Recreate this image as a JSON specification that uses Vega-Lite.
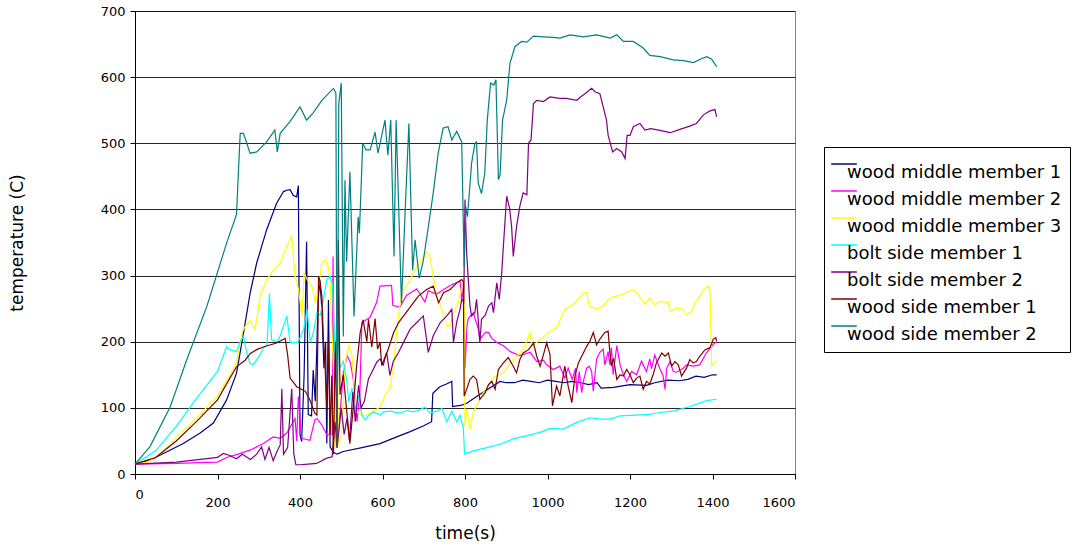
{
"$schema":"https://vega.github.io/schema/vega-lite/v6.json",
"width":660,"height":463,
"autosize":{"type":"none"},
"padding":{"left":135,"top":11,"right":287,"bottom":71},
"background":"white",
"config":{"font":"DejaVu Sans","view":{"stroke":"#808080","strokeWidth":1}},
"datasets":{
"wmm1":[{"time":0,"temp":15},{"time":40,"temp":22},{"time":69,"temp":31},{"time":117,"temp":46},{"time":158,"temp":62},{"time":190,"temp":77},{"time":222,"temp":112},{"time":246,"temp":152},{"time":263,"temp":213},{"time":279,"temp":273},{"time":295,"temp":319},{"time":319,"temp":369},{"time":343,"temp":409},{"time":360,"temp":427},{"time":368,"temp":429},{"time":376,"temp":430},{"time":384,"temp":421},{"time":392,"temp":419},{"time":396,"temp":436},{"time":400,"temp":60},{"time":404,"temp":49},{"time":410,"temp":150},{"time":416,"temp":351},{"time":420,"temp":90},{"time":428,"temp":88},{"time":432,"temp":157},{"time":437,"temp":110},{"time":444,"temp":263},{"time":448,"temp":293},{"time":453,"temp":250},{"time":458,"temp":160},{"time":462,"temp":200},{"time":465,"temp":46},{"time":469,"temp":263},{"time":473,"temp":41},{"time":481,"temp":33},{"time":490,"temp":30},{"time":505,"temp":34},{"time":550,"temp":40},{"time":594,"temp":46},{"time":630,"temp":55},{"time":667,"temp":64},{"time":700,"temp":73},{"time":719,"temp":79},{"time":722,"temp":122},{"time":739,"temp":132},{"time":755,"temp":136},{"time":768,"temp":140},{"time":770,"temp":102},{"time":792,"temp":104},{"time":804,"temp":107},{"time":830,"temp":118},{"time":860,"temp":130},{"time":885,"temp":140},{"time":900,"temp":138},{"time":920,"temp":138},{"time":940,"temp":142},{"time":960,"temp":140},{"time":980,"temp":138},{"time":1000,"temp":142},{"time":1020,"temp":140},{"time":1040,"temp":138},{"time":1060,"temp":140},{"time":1080,"temp":138},{"time":1100,"temp":135},{"time":1120,"temp":138},{"time":1130,"temp":130},{"time":1160,"temp":131},{"time":1200,"temp":135},{"time":1240,"temp":134},{"time":1260,"temp":138},{"time":1290,"temp":142},{"time":1320,"temp":141},{"time":1340,"temp":143},{"time":1360,"temp":148},{"time":1380,"temp":146},{"time":1400,"temp":150},{"time":1410,"temp":150}],
"wmm2":[{"time":0,"temp":15},{"time":100,"temp":16},{"time":200,"temp":18},{"time":222,"temp":25},{"time":250,"temp":30},{"time":279,"temp":36},{"time":311,"temp":46},{"time":335,"temp":56},{"time":352,"temp":54},{"time":368,"temp":62},{"time":388,"temp":84},{"time":392,"temp":50},{"time":396,"temp":117},{"time":404,"temp":54},{"time":424,"temp":51},{"time":436,"temp":82},{"time":441,"temp":84},{"time":453,"temp":74},{"time":465,"temp":59},{"time":478,"temp":60},{"time":480,"temp":329},{"time":485,"temp":54},{"time":490,"temp":40},{"time":505,"temp":152},{"time":514,"temp":179},{"time":522,"temp":169},{"time":530,"temp":140},{"time":538,"temp":80},{"time":545,"temp":120},{"time":550,"temp":229},{"time":570,"temp":237},{"time":586,"temp":260},{"time":594,"temp":284},{"time":622,"temp":285},{"time":625,"temp":255},{"time":642,"temp":252},{"time":658,"temp":270},{"time":683,"temp":280},{"time":703,"temp":260},{"time":711,"temp":277},{"time":731,"temp":272},{"time":764,"temp":285},{"time":788,"temp":292},{"time":792,"temp":262},{"time":797,"temp":285},{"time":800,"temp":160},{"time":805,"temp":225},{"time":808,"temp":235},{"time":820,"temp":244},{"time":832,"temp":220},{"time":836,"temp":204},{"time":850,"temp":214},{"time":857,"temp":214},{"time":865,"temp":205},{"time":877,"temp":199},{"time":893,"temp":194},{"time":910,"temp":185},{"time":933,"temp":179},{"time":958,"temp":184},{"time":974,"temp":170},{"time":990,"temp":172},{"time":998,"temp":165},{"time":1014,"temp":158},{"time":1030,"temp":163},{"time":1042,"temp":145},{"time":1050,"temp":160},{"time":1060,"temp":143},{"time":1068,"temp":160},{"time":1071,"temp":123},{"time":1077,"temp":155},{"time":1083,"temp":123},{"time":1087,"temp":140},{"time":1095,"temp":160},{"time":1101,"temp":163},{"time":1107,"temp":155},{"time":1111,"temp":125},{"time":1119,"temp":174},{"time":1127,"temp":184},{"time":1135,"temp":189},{"time":1139,"temp":165},{"time":1147,"temp":185},{"time":1151,"temp":165},{"time":1155,"temp":191},{"time":1159,"temp":150},{"time":1168,"temp":194},{"time":1176,"temp":165},{"time":1184,"temp":150},{"time":1192,"temp":140},{"time":1204,"temp":155},{"time":1216,"temp":150},{"time":1228,"temp":171},{"time":1232,"temp":165},{"time":1240,"temp":155},{"time":1248,"temp":174},{"time":1252,"temp":159},{"time":1260,"temp":180},{"time":1272,"temp":160},{"time":1280,"temp":149},{"time":1285,"temp":128},{"time":1289,"temp":160},{"time":1297,"temp":170},{"time":1305,"temp":155},{"time":1313,"temp":154},{"time":1329,"temp":160},{"time":1337,"temp":165},{"time":1353,"temp":163},{"time":1369,"temp":165},{"time":1386,"temp":184},{"time":1394,"temp":190},{"time":1402,"temp":196},{"time":1410,"temp":200}],
"wmm3":[{"time":0,"temp":15},{"time":30,"temp":18},{"time":60,"temp":30},{"time":100,"temp":55},{"time":150,"temp":85},{"time":200,"temp":118},{"time":230,"temp":150},{"time":246,"temp":168},{"time":260,"temp":215},{"time":267,"temp":223},{"time":279,"temp":232},{"time":291,"temp":218},{"time":303,"temp":268},{"time":319,"temp":293},{"time":335,"temp":308},{"time":352,"temp":319},{"time":364,"temp":339},{"time":380,"temp":359},{"time":388,"temp":299},{"time":396,"temp":280},{"time":405,"temp":239},{"time":410,"temp":304},{"time":417,"temp":294},{"time":429,"temp":284},{"time":437,"temp":259},{"time":445,"temp":284},{"time":453,"temp":319},{"time":461,"temp":324},{"time":469,"temp":314},{"time":473,"temp":289},{"time":481,"temp":159},{"time":485,"temp":39},{"time":489,"temp":250},{"time":493,"temp":44},{"time":500,"temp":60},{"time":510,"temp":169},{"time":518,"temp":194},{"time":526,"temp":179},{"time":534,"temp":109},{"time":538,"temp":94},{"time":550,"temp":89},{"time":562,"temp":89},{"time":580,"temp":96},{"time":594,"temp":101},{"time":606,"temp":119},{"time":618,"temp":129},{"time":627,"temp":164},{"time":635,"temp":219},{"time":643,"temp":259},{"time":651,"temp":279},{"time":663,"temp":289},{"time":679,"temp":309},{"time":695,"temp":324},{"time":707,"temp":336},{"time":715,"temp":329},{"time":723,"temp":299},{"time":731,"temp":269},{"time":744,"temp":249},{"time":756,"temp":224},{"time":764,"temp":224},{"time":772,"temp":244},{"time":784,"temp":259},{"time":792,"temp":284},{"time":798,"temp":290},{"time":800,"temp":73},{"time":804,"temp":98},{"time":812,"temp":68},{"time":820,"temp":93},{"time":832,"temp":108},{"time":849,"temp":128},{"time":869,"temp":146},{"time":893,"temp":153},{"time":917,"temp":173},{"time":941,"temp":188},{"time":958,"temp":214},{"time":962,"temp":193},{"time":982,"temp":203},{"time":1006,"temp":216},{"time":1022,"temp":221},{"time":1042,"temp":249},{"time":1063,"temp":256},{"time":1087,"temp":274},{"time":1095,"temp":275},{"time":1101,"temp":254},{"time":1119,"temp":249},{"time":1135,"temp":254},{"time":1151,"temp":266},{"time":1168,"temp":269},{"time":1192,"temp":274},{"time":1208,"temp":279},{"time":1220,"temp":271},{"time":1236,"temp":257},{"time":1248,"temp":266},{"time":1260,"temp":256},{"time":1272,"temp":261},{"time":1293,"temp":259},{"time":1297,"temp":246},{"time":1313,"temp":251},{"time":1329,"temp":249},{"time":1337,"temp":241},{"time":1349,"temp":244},{"time":1357,"temp":259},{"time":1365,"temp":264},{"time":1378,"temp":279},{"time":1390,"temp":284},{"time":1394,"temp":274},{"time":1398,"temp":163},{"time":1402,"temp":168},{"time":1410,"temp":171}],
"bsm1":[{"time":0,"temp":15},{"time":50,"temp":35},{"time":100,"temp":72},{"time":150,"temp":115},{"time":200,"temp":155},{"time":222,"temp":192},{"time":230,"temp":188},{"time":246,"temp":185},{"time":255,"temp":200},{"time":263,"temp":208},{"time":271,"temp":183},{"time":279,"temp":167},{"time":287,"temp":165},{"time":303,"temp":180},{"time":311,"temp":190},{"time":320,"temp":195},{"time":326,"temp":273},{"time":331,"temp":203},{"time":345,"temp":200},{"time":352,"temp":209},{"time":360,"temp":224},{"time":368,"temp":239},{"time":376,"temp":199},{"time":395,"temp":199},{"time":409,"temp":219},{"time":417,"temp":249},{"time":425,"temp":199},{"time":433,"temp":215},{"time":441,"temp":244},{"time":449,"temp":240},{"time":457,"temp":264},{"time":465,"temp":294},{"time":473,"temp":299},{"time":479,"temp":285},{"time":485,"temp":174},{"time":490,"temp":250},{"time":496,"temp":160},{"time":505,"temp":170},{"time":514,"temp":139},{"time":518,"temp":109},{"time":526,"temp":130},{"time":534,"temp":89},{"time":542,"temp":119},{"time":550,"temp":89},{"time":558,"temp":82},{"time":566,"temp":88},{"time":578,"temp":94},{"time":594,"temp":89},{"time":602,"temp":94},{"time":620,"temp":95},{"time":640,"temp":92},{"time":660,"temp":96},{"time":675,"temp":94},{"time":690,"temp":97},{"time":703,"temp":101},{"time":715,"temp":92},{"time":731,"temp":95},{"time":744,"temp":99},{"time":756,"temp":79},{"time":768,"temp":95},{"time":780,"temp":79},{"time":788,"temp":89},{"time":796,"temp":69},{"time":799,"temp":30},{"time":820,"temp":35},{"time":853,"temp":40},{"time":885,"temp":45},{"time":917,"temp":53},{"time":950,"temp":58},{"time":982,"temp":63},{"time":1006,"temp":69},{"time":1038,"temp":68},{"time":1071,"temp":78},{"time":1103,"temp":85},{"time":1130,"temp":83},{"time":1151,"temp":83},{"time":1176,"temp":88},{"time":1216,"temp":89},{"time":1248,"temp":90},{"time":1272,"temp":93},{"time":1305,"temp":95},{"time":1345,"temp":102},{"time":1386,"temp":111},{"time":1410,"temp":113}],
"bsm2":[{"time":0,"temp":15},{"time":100,"temp":18},{"time":200,"temp":25},{"time":214,"temp":31},{"time":230,"temp":28},{"time":246,"temp":23},{"time":260,"temp":30},{"time":280,"temp":22},{"time":295,"temp":30},{"time":307,"temp":41},{"time":315,"temp":22},{"time":325,"temp":40},{"time":335,"temp":20},{"time":345,"temp":35},{"time":352,"temp":44},{"time":356,"temp":129},{"time":360,"temp":30},{"time":370,"temp":40},{"time":380,"temp":129},{"time":385,"temp":30},{"time":390,"temp":14},{"time":400,"temp":14},{"time":420,"temp":15},{"time":440,"temp":16},{"time":465,"temp":24},{"time":478,"temp":26},{"time":485,"temp":79},{"time":490,"temp":40},{"time":500,"temp":100},{"time":507,"temp":60},{"time":514,"temp":84},{"time":520,"temp":50},{"time":528,"temp":124},{"time":534,"temp":79},{"time":542,"temp":134},{"time":548,"temp":100},{"time":556,"temp":110},{"time":566,"temp":144},{"time":575,"temp":155},{"time":586,"temp":169},{"time":594,"temp":174},{"time":602,"temp":165},{"time":610,"temp":184},{"time":618,"temp":149},{"time":626,"temp":170},{"time":639,"temp":184},{"time":651,"temp":199},{"time":667,"temp":219},{"time":683,"temp":229},{"time":699,"temp":239},{"time":711,"temp":184},{"time":723,"temp":209},{"time":740,"temp":229},{"time":756,"temp":239},{"time":768,"temp":249},{"time":772,"temp":199},{"time":780,"temp":230},{"time":788,"temp":249},{"time":792,"temp":264},{"time":797,"temp":260},{"time":800,"temp":415},{"time":804,"temp":334},{"time":812,"temp":254},{"time":816,"temp":239},{"time":824,"temp":244},{"time":828,"temp":264},{"time":832,"temp":234},{"time":836,"temp":198},{"time":840,"temp":234},{"time":849,"temp":240},{"time":857,"temp":254},{"time":865,"temp":259},{"time":869,"temp":244},{"time":877,"temp":289},{"time":883,"temp":264},{"time":889,"temp":304},{"time":893,"temp":344},{"time":901,"temp":420},{"time":908,"temp":402},{"time":913,"temp":374},{"time":917,"temp":329},{"time":925,"temp":374},{"time":933,"temp":405},{"time":941,"temp":425},{"time":950,"temp":422},{"time":954,"temp":500},{"time":960,"temp":505},{"time":966,"temp":560},{"time":974,"temp":565},{"time":990,"temp":563},{"time":1006,"temp":570},{"time":1030,"temp":568},{"time":1046,"temp":568},{"time":1071,"temp":565},{"time":1080,"temp":570},{"time":1091,"temp":575},{"time":1107,"temp":583},{"time":1115,"temp":578},{"time":1127,"temp":575},{"time":1135,"temp":555},{"time":1143,"temp":535},{"time":1147,"temp":512},{"time":1158,"temp":487},{"time":1168,"temp":492},{"time":1180,"temp":487},{"time":1188,"temp":477},{"time":1193,"temp":512},{"time":1200,"temp":512},{"time":1208,"temp":525},{"time":1224,"temp":530},{"time":1236,"temp":520},{"time":1250,"temp":522},{"time":1270,"temp":520},{"time":1297,"temp":516},{"time":1321,"temp":521},{"time":1345,"temp":526},{"time":1361,"temp":530},{"time":1378,"temp":543},{"time":1394,"temp":549},{"time":1406,"temp":551},{"time":1410,"temp":540}],
"wsm1":[{"time":0,"temp":15},{"time":50,"temp":25},{"time":100,"temp":50},{"time":150,"temp":80},{"time":200,"temp":112},{"time":230,"temp":145},{"time":246,"temp":162},{"time":267,"temp":172},{"time":279,"temp":182},{"time":295,"temp":188},{"time":311,"temp":192},{"time":327,"temp":195},{"time":343,"temp":198},{"time":352,"temp":201},{"time":364,"temp":205},{"time":370,"temp":180},{"time":376,"temp":145},{"time":392,"temp":132},{"time":413,"temp":125},{"time":424,"temp":112},{"time":436,"temp":92},{"time":441,"temp":89},{"time":445,"temp":299},{"time":448,"temp":293},{"time":453,"temp":269},{"time":457,"temp":200},{"time":461,"temp":159},{"time":465,"temp":100},{"time":469,"temp":200},{"time":473,"temp":60},{"time":477,"temp":149},{"time":481,"temp":30},{"time":486,"temp":200},{"time":490,"temp":40},{"time":493,"temp":354},{"time":497,"temp":120},{"time":505,"temp":150},{"time":513,"temp":97},{"time":521,"temp":46},{"time":529,"temp":100},{"time":537,"temp":162},{"time":546,"temp":214},{"time":553,"temp":233},{"time":562,"temp":200},{"time":566,"temp":234},{"time":574,"temp":192},{"time":582,"temp":235},{"time":588,"temp":189},{"time":594,"temp":199},{"time":598,"temp":164},{"time":614,"temp":189},{"time":627,"temp":214},{"time":639,"temp":229},{"time":651,"temp":239},{"time":663,"temp":249},{"time":675,"temp":259},{"time":687,"temp":269},{"time":707,"temp":279},{"time":723,"temp":284},{"time":736,"temp":259},{"time":748,"temp":274},{"time":764,"temp":279},{"time":780,"temp":289},{"time":792,"temp":294},{"time":796,"temp":291},{"time":798,"temp":118},{"time":804,"temp":128},{"time":812,"temp":143},{"time":820,"temp":148},{"time":828,"temp":143},{"time":836,"temp":113},{"time":849,"temp":123},{"time":857,"temp":135},{"time":865,"temp":140},{"time":873,"temp":128},{"time":881,"temp":158},{"time":893,"temp":168},{"time":905,"temp":176},{"time":917,"temp":163},{"time":925,"temp":153},{"time":933,"temp":173},{"time":941,"temp":183},{"time":954,"temp":188},{"time":966,"temp":198},{"time":974,"temp":178},{"time":982,"temp":163},{"time":990,"temp":180},{"time":998,"temp":198},{"time":1006,"temp":181},{"time":1012,"temp":103},{"time":1022,"temp":133},{"time":1030,"temp":118},{"time":1042,"temp":163},{"time":1050,"temp":133},{"time":1059,"temp":108},{"time":1067,"temp":150},{"time":1075,"temp":168},{"time":1083,"temp":178},{"time":1095,"temp":193},{"time":1103,"temp":201},{"time":1111,"temp":214},{"time":1119,"temp":195},{"time":1127,"temp":204},{"time":1139,"temp":214},{"time":1147,"temp":216},{"time":1151,"temp":185},{"time":1155,"temp":163},{"time":1160,"temp":175},{"time":1168,"temp":143},{"time":1176,"temp":150},{"time":1184,"temp":148},{"time":1192,"temp":158},{"time":1200,"temp":150},{"time":1208,"temp":138},{"time":1216,"temp":145},{"time":1224,"temp":148},{"time":1232,"temp":128},{"time":1240,"temp":140},{"time":1248,"temp":136},{"time":1256,"temp":150},{"time":1264,"temp":168},{"time":1277,"temp":183},{"time":1285,"temp":178},{"time":1293,"temp":183},{"time":1301,"temp":163},{"time":1309,"temp":170},{"time":1317,"temp":165},{"time":1325,"temp":148},{"time":1337,"temp":160},{"time":1345,"temp":173},{"time":1353,"temp":168},{"time":1361,"temp":170},{"time":1369,"temp":178},{"time":1382,"temp":188},{"time":1394,"temp":191},{"time":1402,"temp":204},{"time":1408,"temp":206},{"time":1410,"temp":201}],
"wsm2":[{"time":0,"temp":15},{"time":36,"temp":41},{"time":85,"temp":101},{"time":125,"temp":172},{"time":174,"temp":253},{"time":222,"temp":349},{"time":246,"temp":392},{"time":255,"temp":515},{"time":263,"temp":515},{"time":279,"temp":485},{"time":295,"temp":487},{"time":319,"temp":502},{"time":339,"temp":520},{"time":345,"temp":487},{"time":352,"temp":515},{"time":376,"temp":533},{"time":400,"temp":555},{"time":416,"temp":535},{"time":432,"temp":546},{"time":453,"temp":565},{"time":481,"temp":583},{"time":487,"temp":576},{"time":490,"temp":40},{"time":494,"temp":560},{"time":500,"temp":591},{"time":505,"temp":208},{"time":509,"temp":444},{"time":513,"temp":321},{"time":521,"temp":457},{"time":531,"temp":238},{"time":541,"temp":389},{"time":544,"temp":364},{"time":552,"temp":500},{"time":560,"temp":490},{"time":570,"temp":490},{"time":582,"temp":517},{"time":589,"temp":485},{"time":606,"temp":535},{"time":613,"temp":482},{"time":620,"temp":535},{"time":628,"temp":329},{"time":633,"temp":535},{"time":646,"temp":258},{"time":655,"temp":399},{"time":664,"temp":530},{"time":673,"temp":308},{"time":679,"temp":354},{"time":689,"temp":296},{"time":699,"temp":323},{"time":710,"temp":369},{"time":723,"temp":425},{"time":735,"temp":485},{"time":747,"temp":523},{"time":759,"temp":525},{"time":768,"temp":505},{"time":780,"temp":518},{"time":792,"temp":502},{"time":798,"temp":313},{"time":802,"temp":404},{"time":806,"temp":389},{"time":816,"temp":470},{"time":824,"temp":500},{"time":828,"temp":502},{"time":832,"temp":440},{"time":840,"temp":424},{"time":848,"temp":455},{"time":854,"temp":535},{"time":862,"temp":591},{"time":870,"temp":588},{"time":875,"temp":596},{"time":881,"temp":445},{"time":885,"temp":452},{"time":891,"temp":535},{"time":901,"temp":565},{"time":909,"temp":621},{"time":921,"temp":646},{"time":937,"temp":654},{"time":950,"temp":653},{"time":966,"temp":662},{"time":990,"temp":661},{"time":1014,"temp":660},{"time":1030,"temp":659},{"time":1055,"temp":664},{"time":1087,"temp":661},{"time":1119,"temp":664},{"time":1152,"temp":659},{"time":1168,"temp":664},{"time":1184,"temp":654},{"time":1208,"temp":654},{"time":1232,"temp":644},{"time":1248,"temp":633},{"time":1273,"temp":631},{"time":1305,"temp":626},{"time":1329,"temp":625},{"time":1354,"temp":622},{"time":1370,"temp":627},{"time":1386,"temp":631},{"time":1398,"temp":627},{"time":1410,"temp":616}]
},
"encoding":{
"x":{"field":"time","type":"quantitative","scale":{"domain":[0,1600],"nice":false},"axis":{"title":"time(s)","values":[0,200,400,600,800,1000,1200,1400,1600],"format":"d","grid":false,"domainColor":"#000","tickColor":"#000","tickSize":5,"labelColor":"#000","labelFontSize":13,"labelPadding":{"condition":{"test":"datum.value == 0","value":9},"value":17},"titleFontSize":17,"titleFontWeight":"normal","titleColor":"#000","titlePadding":16}},
"y":{"field":"temp","type":"quantitative","scale":{"domain":[0,700],"nice":false},"axis":{"title":"temperature (C)","values":[0,100,200,300,400,500,600,700],"grid":true,"gridColor":"#000","gridOpacity":0.85,"gridWidth":1,"domainColor":"#000","tickColor":"#000","tickSize":5,"labelColor":"#000","labelFontSize":13,"labelPadding":5,"titleFontSize":17,"titleFontWeight":"normal","titleColor":"#000","titlePadding":74}}
},
"layer":[
{"data":{"name":"wmm1"},"mark":{"type":"line","strokeWidth":1.2},"encoding":{"color":{"datum":"wood middle member 1","type":"nominal","scale":{"domain":["wood middle member 1","wood middle member 2","wood middle member 3","bolt side member 1","bolt side member 2","wood side member 1","wood side member 2"],"range":["#000080","#FF00FF","#FFFF00","#00FFFF","#800080","#800000","#008080"]},"legend":{"title":null,"orient":"none","legendX":689,"legendY":136,"strokeColor":"#000","fillColor":"#fff","padding":8,"symbolType":"M-1.6,0H1.6","symbolSize":256,"symbolOffset":3,"symbolStrokeWidth":1.5,"labelFontSize":18,"labelColor":"#000","labelOffset":-6,"labelBaseline":"top","labelLimit":400,"rowPadding":0}}}},
{"data":{"name":"wmm2"},"mark":{"type":"line","strokeWidth":1.2},"encoding":{"color":{"datum":"wood middle member 2","type":"nominal"}}},
{"data":{"name":"wmm3"},"mark":{"type":"line","strokeWidth":1.2},"encoding":{"color":{"datum":"wood middle member 3","type":"nominal"}}},
{"data":{"name":"bsm1"},"mark":{"type":"line","strokeWidth":1.2},"encoding":{"color":{"datum":"bolt side member 1","type":"nominal"}}},
{"data":{"name":"bsm2"},"mark":{"type":"line","strokeWidth":1.2},"encoding":{"color":{"datum":"bolt side member 2","type":"nominal"}}},
{"data":{"name":"wsm1"},"mark":{"type":"line","strokeWidth":1.2},"encoding":{"color":{"datum":"wood side member 1","type":"nominal"}}},
{"data":{"name":"wsm2"},"mark":{"type":"line","strokeWidth":1.2},"encoding":{"color":{"datum":"wood side member 2","type":"nominal"}}}
]
}
